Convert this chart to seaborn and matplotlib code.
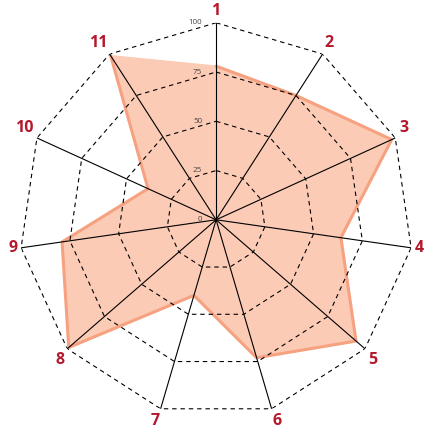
import numpy as np
import pandas as pd
import matplotlib
matplotlib.use("Agg")
import matplotlib.pyplot as plt
import seaborn as sns

# 数据
categories = ["1", "2", "3", "4", "5", "6", "7", "8", "9", "10", "11"]
values = [78, 75, 98, 64, 94, 73, 40, 99, 79, 38, 99]
grid_levels = [25, 50, 75, 100]
tick_labels = ["0", "25", "50", "75", "100"]

sns.set_theme(style="white")
plt.rcParams["font.family"] = ["Open Sans", "DejaVu Sans"]

n = len(categories)
angles = np.arange(n) * 2 * np.pi / n
closed_angles = np.append(angles, angles[0])
closed_values = values + values[:1]
df = pd.DataFrame({"theta": closed_angles, "value": closed_values})

fig = plt.figure(figsize=(4.25, 4.28), dpi=100)
ax = fig.add_axes([0.045, 0.026, 0.927, 0.921], projection="polar")
ax.set_theta_zero_location("N")
ax.set_theta_direction(-1)
ax.set_ylim(0, 100)
ax.grid(False)
ax.spines["polar"].set_visible(False)
ax.set_xticks([])
ax.set_yticks([])
ax.set_facecolor("none")

# 填充区域
ax.fill(closed_angles, closed_values, color="#fbcbb6", zorder=1)
sns.lineplot(data=df, x="theta", y="value", sort=False, ax=ax,
             color="#f6a17f", linewidth=2.2, zorder=2)
ax.set_xlabel("")
ax.set_ylabel("")

# 虚线网格
for lvl in grid_levels:
    ax.plot(closed_angles, [lvl] * (n + 1), color="black", linestyle=(0, (4, 3.5)),
            linewidth=0.8, zorder=3)

# 轴线
for a in angles:
    ax.plot([a, a], [0, 100], color="black", linewidth=0.8, zorder=3)

# 类别标签：贴着顶点，按方向对齐
for a, c in zip(angles, categories):
    s, co = np.sin(a), np.cos(a)
    ha = "left" if s > 0.2 else ("right" if s < -0.2 else "center")
    va = "bottom" if co > 0.3 else ("top" if co < -0.3 else "center")
    ax.annotate(c, xy=(a, 100), xytext=(3 * s, 3 * co), textcoords="offset points",
                color="#b5172b", fontsize=11.5, fontweight="bold",
                ha=ha, va=va, annotation_clip=False)

# 刻度标签
for lvl, t in zip([0] + grid_levels, tick_labels):
    ax.annotate(t, xy=(0, lvl), xytext=(-10, 0), textcoords="offset points",
                ha="right", va="center", fontsize=5.8, color="#444444")

fig.savefig("out.png", dpi=100)
